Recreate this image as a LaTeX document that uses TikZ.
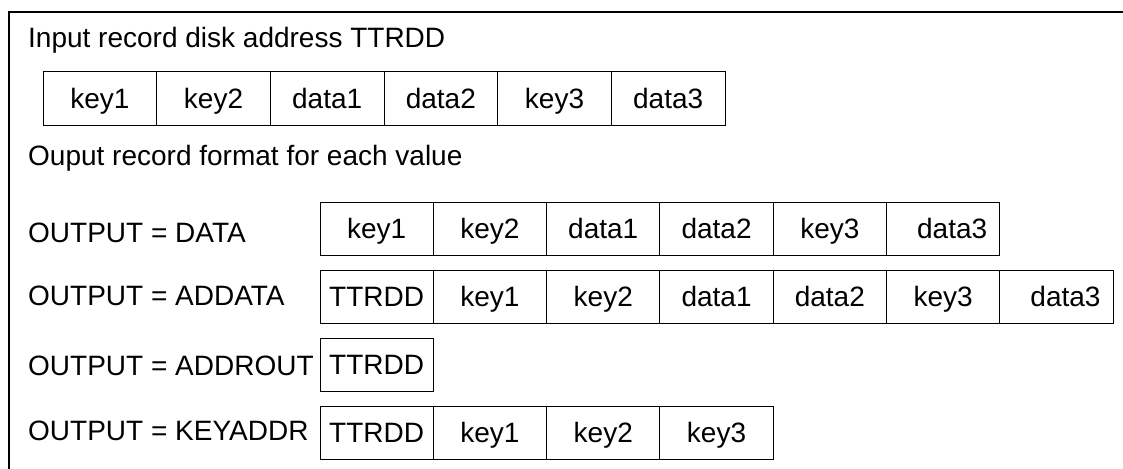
\documentclass[tikz,border=0pt]{standalone}
\usepackage{fontspec}
\setmainfont{Liberation Sans}
\usetikzlibrary{positioning}
\begin{document}
\begin{tikzpicture}[x=1pt,y=-1pt,
  txt/.style={font=\fontsize{28}{33}\selectfont, inner sep=0pt},
  lbl/.style={txt, anchor=base west},
  cell/.style={txt, draw=black, line width=1pt, outer sep=0pt,
    minimum height=53pt, text height=20pt, text depth=0pt},
  incell/.style={cell, minimum width=113.67pt},
  outcell/.style={cell, minimum width=113.3pt},
  frame/.style={line width=2.4pt, line join=miter}]
\useasboundingbox (0,0) rectangle (1123,468);

% frame open to the right and bottom
\draw[frame] (9,475) -- (9,12) -- (1130,12);

% input record
\node[lbl] (tin) at (28,48) {Input record disk address TTRDD};
\node[incell, anchor=north west] (i1) at (43,72) {key1};
\node[incell, right=0pt of i1] (i2) {key2};
\node[incell, right=0pt of i2] (i3) {data1};
\node[incell, right=0pt of i3] (i4) {data2};
\node[incell, right=0pt of i4] (i5) {key3};
\node[incell, right=0pt of i5] (i6) {data3};

\node[lbl] (tout) at (28,165) {Ouput record format for each value};

% OUTPUT = DATA
\node[lbl] (ldata) at (28,242) {OUTPUT = DATA};
\node[outcell, anchor=north west] (a1) at (320,202) {key1};
\node[outcell, right=0pt of a1] (a2) {key2};
\node[outcell, right=0pt of a2] (a3) {data1};
\node[outcell, right=0pt of a3] (a4) {data2};
\node[outcell, right=0pt of a4] (a5) {key3};
\node[outcell, right=0pt of a5] (a6) {\hspace*{18pt}data3};

% OUTPUT = ADDATA
\node[lbl] (laddata) at (28,305) {OUTPUT = ADDATA};
\node[outcell, anchor=north west] (b1) at (320,270) {TTRDD};
\node[outcell, right=0pt of b1] (b2) {key1};
\node[outcell, right=0pt of b2] (b3) {key2};
\node[outcell, right=0pt of b3] (b4) {data1};
\node[outcell, right=0pt of b4] (b5) {data2};
\node[outcell, right=0pt of b5] (b6) {key3};
\node[outcell, right=0pt of b6] (b7) {\hspace*{18pt}data3};

% OUTPUT = ADDROUT
\node[lbl] (laddrout) at (28,375) {OUTPUT = ADDROUT};
\node[outcell, anchor=north west] (c1) at (320,338) {TTRDD};

% OUTPUT = KEYADDR
\node[lbl] (lkeyaddr) at (28,440) {OUTPUT = KEYADDR};
\node[outcell, anchor=north west] (d1) at (320,406) {TTRDD};
\node[outcell, right=0pt of d1] (d2) {key1};
\node[outcell, right=0pt of d2] (d3) {key2};
\node[outcell, right=0pt of d3] (d4) {key3};
\end{tikzpicture}
\end{document}
